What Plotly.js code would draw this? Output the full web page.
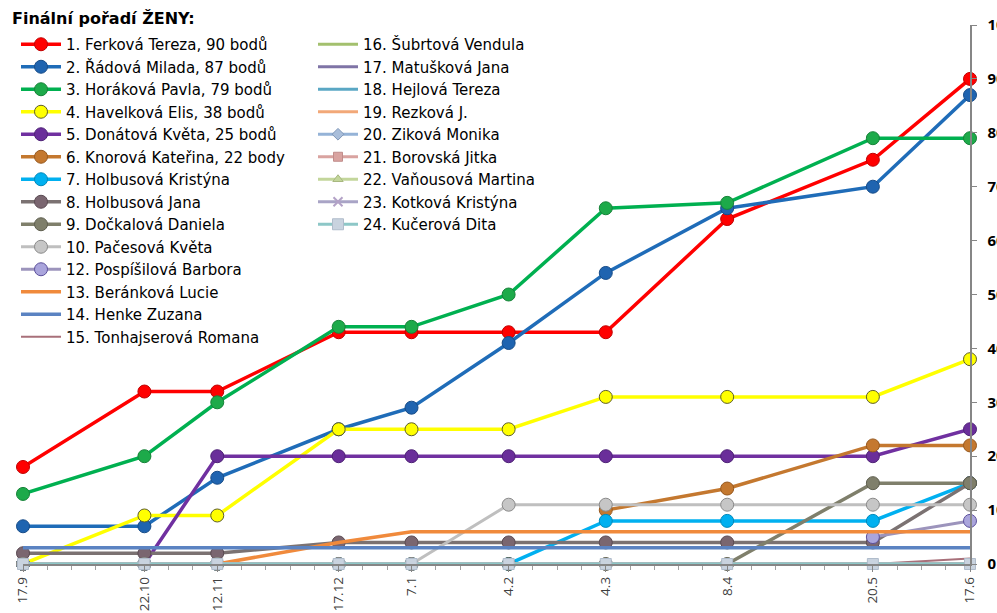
<!DOCTYPE html>
<html>
<head>
<meta charset="utf-8">
<script src="https://cdn.plot.ly/plotly-3.0.1.min.js"></script>
<style>html,body{margin:0;padding:0;background:#fff;}#chart{width:997px;height:613px;}</style>
</head>
<body>
<div id="chart"></div>
<script>
// ---- data ----
const dates = ['2012-09-17','2012-10-22','2012-11-12','2012-12-17','2013-01-07','2013-02-04','2013-03-04','2013-04-08','2013-05-20','2013-06-17'];
const dateLabels = ['17.9','22.10','12.11','17.12','7.1','4.2','4.3','8.4','20.5','17.6'];

const names = [
  '1. Ferková Tereza, 90 bodů',
  '2. Řádová Milada, 87 bodů',
  '3. Horáková Pavla, 79 bodů',
  '4. Havelková Elis, 38 bodů',
  '5. Donátová Květa, 25 bodů',
  '6. Knorová Kateřina, 22 body',
  '7. Holbusová Kristýna',
  '8. Holbusová Jana',
  '9. Dočkalová Daniela',
  '10. Pačesová Květa',
  '12. Pospíšilová Barbora',
  '13. Beránková Lucie',
  '14. Henke Zuzana',
  '15. Tonhajserová Romana',
  '16. Šubrtová Vendula',
  '17. Matušková Jana',
  '18. Hejlová Tereza',
  '19. Rezková J.',
  '20. Ziková Monika',
  '21. Borovská Jitka',
  '22. Vaňousová Martina',
  '23. Kotková Kristýna',
  '24. Kučerová Dita'
];

const ferkova      = [18, 32, 32, 43, 43, 43, 43, 64, 75, 90];
const radova       = [7, 7, 16, 25, 29, 41, 54, 66, 70, 87];
const horakova     = [13, 20, 30, 44, 44, 50, 66, 67, 79, 79];
const havelkova    = [0, 9, 9, 25, 25, 25, 31, 31, 31, 38];
const donatova     = [0, 0, 20, 20, 20, 20, 20, 20, 20, 25];
const knorova      = [null, null, null, null, null, null, 10, 14, 22, 22];
const holbusovaK   = [0, 0, 0, 0, 0, 0, 8, 8, 8, 15];
const holbusovaJ   = [2, 2, 2, 4, 4, 4, 4, 4, 4, 15];
const dockalova    = [0, 0, 0, 0, 0, 0, 0, 0, 15, 15];
const pacesova     = [0, 0, 0, 0, 0, 11, 11, 11, 11, 11];
const pospisilova  = [null, null, null, null, null, null, null, null, 5, 8];
const berankova    = [0, 0, 0, 4, 6, 6, 6, 6, 6, 6];
const henke        = [3, 3, 3, 3, 3, 3, 3, 3, 3, 3];
const tonhajserova = [0, 0, 0, 0, 0, 0, 0, 0, 0, 1];
const subrtova     = [0, 0, 0, 0, 0, 0, 0, 0, 0, 0];
const matuskova    = [0, 0, 0, 0, 0, 0, 0, 0, 0, 0];
const hejlova      = [0, 0, 0, 0, 0, 0, 0, 0, 0, 0];
const rezkova      = [0, 0, 0, 0, 0, 0, 0, 0, 0, 0];
const zikova       = [0, 0, 0, 0, 0, 0, 0, 0, 0, 0];
const borovska     = [0, 0, 0, 0, 0, 0, 0, 0, 0, 0];
const vanousova    = [0, 0, 0, 0, 0, 0, 0, 0, 0, 0];
const kotkova      = [0, 0, 0, 0, 0, 0, 0, 0, 0, 0];
const kucerova     = [0, 0, 0, 0, 0, 0, 0, 0, 0, 0];

const values = [ferkova, radova, horakova, havelkova, donatova, knorova, holbusovaK, holbusovaJ,
  dockalova, pacesova, pospisilova, berankova, henke, tonhajserova, subrtova, matuskova, hejlova,
  rezkova, zikova, borovska, vanousova, kotkova, kucerova];

// ---- styles: [lineColor, markerFill, markerLine, symbol (null = no marker), size, lineWidth]
const styles = [
  ['#FF0000', '#FF0000', '#C00000', 'circle', 13, 3.5],
  ['#1F6CB8', '#1F64B0', '#174C88', 'circle', 13, 3.5],
  ['#00B050', '#1DAA4A', '#168238', 'circle', 13, 3.5],
  ['#FFFF00', '#FFFF00', '#5E5E2A', 'circle', 13, 3.5],
  ['#7030A0', '#6A2E9A', '#4E2276', 'circle', 13, 3.5],
  ['#C4782F', '#C4782F', '#97591F', 'circle', 13, 3.5],
  ['#00B0F0', '#00B0F0', '#0088BA', 'circle', 13, 3.5],
  ['#7B7272', '#7A6670', '#5A4A52', 'circle', 13, 3.5],
  ['#7F7F6B', '#7F7F6B', '#5E5E4E', 'circle', 13, 3.5],
  ['#BFBFBF', '#C6C6C6', '#8A8A8A', 'circle', 13, 3],
  ['#9C94BC', '#AAA5DC', '#5B4F9B', 'circle', 13, 3],
  ['#F08A3C', null, null, null, 0, 3.5],
  ['#5B83C2', null, null, null, 0, 3.5],
  ['#A8707A', null, null, null, 0, 2],
  ['#A3C06E', null, null, null, 0, 3],
  ['#7F74A6', null, null, null, 0, 3],
  ['#5AA7C4', null, null, null, 0, 3],
  ['#F2A878', null, null, null, 0, 3],
  ['#95B3D7', '#A9BEDA', '#7F97B8', 'diamond', 9, 3],
  ['#D9A3A0', '#D9A3A0', '#C08C8A', 'square', 9, 3],
  ['#C3D69B', '#C3D69B', '#A8B880', 'triangle-up', 9, 3],
  ['#A9A4C6', '#B3A2C7', '#8F84AA', 'x-thin-open', 9, 3],
  ['#8DC7C7', '#C9D3DF', '#B0BCCB', 'square', 11, 3]
];

const traces = names.map((nm, i) => {
  const s = styles[i];
  const t = {
    type: 'scatter',
    x: dates,
    y: values[i],
    name: nm,
    legend: i < 14 ? 'legend' : 'legend2',
    cliponaxis: false,
    line: {color: s[0], width: s[5]},
    hoverinfo: 'name+y'
  };
  if (s[3]) {
    t.mode = 'lines+markers';
    t.marker = {symbol: s[3], size: s[4], color: s[1], line: {color: s[2], width: s[3] === 'x-thin-open' ? 2 : 1}};
  } else {
    t.mode = 'lines';
  }
  return t;
});

const legendFont = 'DejaVu Sans, Liberation Sans, sans-serif';
const axisFont = 'Open Sans, Liberation Sans, Arial, sans-serif';

// plot area: x 23..970 px, y 25..564 px
const PW = 947, PH = 539, PL = 23, PB = 564;
const px = v => (v - PL) / PW;
const py = v => (PB - v) / PH;

const legendBase = {
  xref: 'paper', yref: 'paper',
  xanchor: 'left', yanchor: 'top',
  bgcolor: 'rgba(0,0,0,0)',
  font: {family: legendFont, size: 15, color: '#000000'},
  itemwidth: 40,
  traceorder: 'normal',
  tracegroupgap: 0
};

const layout = {
  width: 997,
  height: 613,
  margin: {l: PL, r: 997 - PL - PW, t: PB - PH, b: 613 - PB},
  paper_bgcolor: '#ffffff',
  plot_bgcolor: '#ffffff',
  showlegend: true,
  xaxis: {
    type: 'date',
    range: [dates[0], dates[dates.length - 1]],
    tickvals: dates,
    ticktext: dateLabels,
    tickangle: -90,
    ticks: 'outside',
    ticklen: 6,
    tickcolor: '#868686',
    showline: true,
    linecolor: '#868686',
    linewidth: 1.5,
    showgrid: false,
    zeroline: false,
    tickfont: {family: axisFont, size: 13.5, color: '#404040'},
    minor: {dtick: 7 * 86400000, tick0: dates[0], ticks: 'outside', ticklen: 4, tickcolor: '#A0A0A0', showgrid: false}
  },
  yaxis: {
    side: 'right',
    range: [0, 100],
    dtick: 10,
    ticks: 'outside',
    ticklen: 5,
    tickcolor: '#868686',
    showline: true,
    linecolor: '#868686',
    linewidth: 1.5,
    showgrid: false,
    zeroline: false,
    ticklabelstandoff: 8,
    tickfont: {family: axisFont, size: 15, color: '#000000', weight: 'bold'}
  },
  legend: Object.assign({}, legendBase, {x: px(16), y: py(28)}),
  legend2: Object.assign({}, legendBase, {x: px(313), y: py(28)}),
  annotations: [{
    xref: 'paper', yref: 'paper',
    x: px(10), y: py(18),
    xanchor: 'left', yanchor: 'middle',
    text: '<b>Finální pořadí ŽENY:</b>',
    showarrow: false,
    font: {family: legendFont, size: 16, color: '#000000'}
  }]
};

Plotly.newPlot('chart', traces, layout, {displayModeBar: false, staticPlot: true});
</script>
</body>
</html>
